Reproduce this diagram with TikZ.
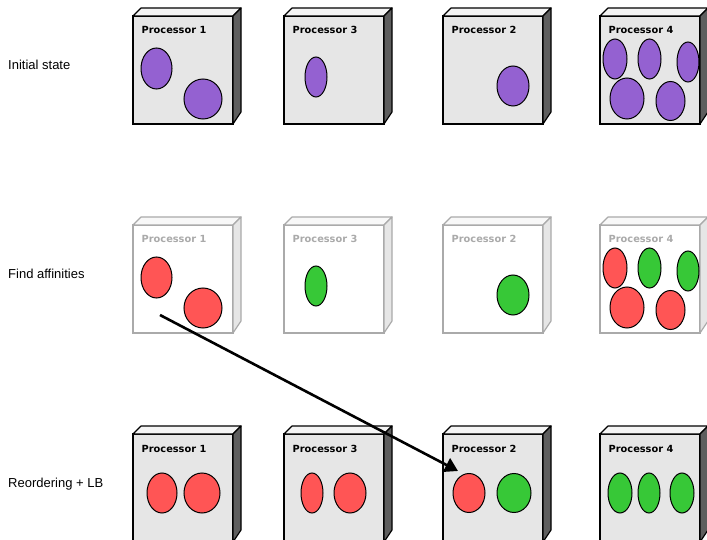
\documentclass[tikz,border=0pt]{standalone}
\usepackage{fontspec}
\setmainfont{Liberation Sans}
\newfontfamily\dejab{DejaVu Sans}
\usetikzlibrary{arrows.meta,shapes.geometric}
\definecolor{purp}{HTML}{9461D1}
\definecolor{redb}{HTML}{FF5555}
\definecolor{grnb}{HTML}{37C837}
\definecolor{faceA}{HTML}{E6E6E6}
\definecolor{topA}{HTML}{F4F4F4}
\definecolor{sideA}{HTML}{5E5E5E}
\definecolor{lineB}{HTML}{AAAAAA}
\definecolor{topB}{HTML}{F8F8F8}
\definecolor{sideB}{HTML}{E6E6E6}
\tikzset{
  frontface/.style={draw=bl, line width=1.2pt, fill=bf, minimum width=100pt,
    minimum height=108pt, anchor=north west, inner sep=0pt, outer sep=0pt},
  facet/.style={draw=bl, line width=1.2pt, line join=round},
  proclabel/.style={anchor=base west, inner sep=0pt, text=bl,
    font={\dejab\bfseries\fontsize{9.8}{11}\selectfont}},
  rowlabel/.style={anchor=base west, inner sep=0pt,
    font={\fontsize{13}{15}\selectfont}},
  blobstyle/.style={ellipse, draw=black, line width=1pt, inner sep=0pt},
  movearrow/.style={line width=2.6pt, -{Triangle[length=13pt,width=15pt]}}
}
\newcommand\procbox[5]{%
  \begin{scope}
    \ifx A#5
      \colorlet{bl}{black}\colorlet{bf}{faceA}\colorlet{bt}{topA}\colorlet{bs}{sideA}%
    \else
      \colorlet{bl}{lineB}\colorlet{bf}{white}\colorlet{bt}{topB}\colorlet{bs}{sideB}%
    \fi
    \node[frontface] (#1) at (#2,#3) {};
    \draw[facet, fill=bt] (#1.north west) -- ++(8,-8) -- ++(100,0) -- (#1.north east) -- cycle;
    \draw[facet, fill=bs] (#1.north east) -- ++(8,-8) -- ++(0,104) -- (#1.south east) -- cycle;
    \node[proclabel] (#1l) at ([xshift=8.5pt,yshift=-18pt]#1.north west) {#4};
  \end{scope}%
}
\newcommand\blob[6]{%
  \node[blobstyle, fill=#6, minimum width=#4*2pt, minimum height=#5*2pt] (#1) at (#2,#3) {};%
}
\begin{document}
\begin{tikzpicture}[x=1pt,y=-1pt]
\useasboundingbox (0,0) rectangle (707,540);
\fill[white] (0,0) rectangle (707,540);

% row labels
\node[rowlabel] (r1) at (8,70) {Initial state};
\node[rowlabel] (r2) at (8,278) {Find affinities};
\node[rowlabel] (r3) at (8,487.5) {Reordering + LB};

% row 1
\procbox{a1}{133}{16}{Processor 1}{A}
\procbox{a3}{284}{16}{Processor 3}{A}
\procbox{a2}{443}{16}{Processor 2}{A}
\procbox{a4}{600}{16}{Processor 4}{A}
\blob{a1e1}{156.5}{68.5}{15.5}{20.5}{purp}
\blob{a1e2}{203}{99}{19}{20}{purp}
\blob{a3e1}{316}{77}{11}{20}{purp}
\blob{a2e1}{513}{86}{16}{20}{purp}
\blob{a4e1}{615}{59}{12}{20}{purp}
\blob{a4e2}{649.5}{59}{11.5}{20}{purp}
\blob{a4e3}{688}{62}{11}{20}{purp}
\blob{a4e4}{627}{98.5}{17}{20.5}{purp}
\blob{a4e5}{670.5}{101}{14.5}{19.5}{purp}

% row 2
\procbox{b1}{133}{225}{Processor 1}{B}
\procbox{b3}{284}{225}{Processor 3}{B}
\procbox{b2}{443}{225}{Processor 2}{B}
\procbox{b4}{600}{225}{Processor 4}{B}
\blob{b1e1}{156.5}{277.5}{15.5}{20.5}{redb}
\blob{b1e2}{203}{308}{19}{20}{redb}
\blob{b3e1}{316}{286}{11}{20}{grnb}
\blob{b2e1}{513}{295}{16}{20}{grnb}
\blob{b4e1}{615}{268}{12}{20}{redb}
\blob{b4e2}{649.5}{268}{11.5}{20}{grnb}
\blob{b4e3}{688}{271}{11}{20}{grnb}
\blob{b4e4}{627}{307.5}{17}{20.5}{redb}
\blob{b4e5}{670.5}{310}{14.5}{19.5}{redb}

% row 3
\procbox{c1}{133}{434}{Processor 1}{A}
\procbox{c3}{284}{434}{Processor 3}{A}
\procbox{c2}{443}{434}{Processor 2}{A}
\procbox{c4}{600}{434}{Processor 4}{A}
\blob{c1e1}{162}{493}{15}{20}{redb}
\blob{c1e2}{202}{493}{18}{20}{redb}
\blob{c3e1}{312}{493}{11}{20}{redb}
\blob{c3e2}{350}{493}{16}{20}{redb}
\blob{c2e1}{469}{493}{16}{19.5}{redb}
\blob{c2e2}{514}{493}{17}{19.5}{grnb}
\blob{c4e1}{620}{493}{12}{20}{grnb}
\blob{c4e2}{649}{493}{11}{20}{grnb}
\blob{c4e3}{682}{493}{12}{20}{grnb}

% migration arrow
\coordinate (as) at (160,315);
\coordinate (ae) at (458,471);
\draw[movearrow] (as) -- (ae);
\end{tikzpicture}
\end{document}
